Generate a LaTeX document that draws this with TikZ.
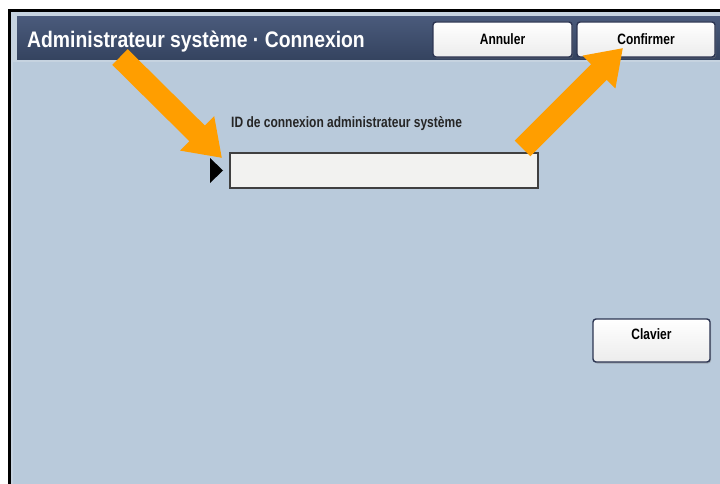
\documentclass[tikz,border=0pt]{standalone}
\usepackage{fontspec}
\setmainfont{Liberation Sans}
\newfontfamily\condf{Liberation Sans}[FakeStretch=0.8]
\newfontfamily\titlef{Liberation Sans}[FakeStretch=0.86]
\usetikzlibrary{arrows.meta,shadows}
\definecolor{bgblue}{HTML}{B9CADB}
\definecolor{framebg}{HTML}{C6D3E0}
\definecolor{bartop}{HTML}{4A5A7B}
\definecolor{barbot}{HTML}{34435F}
\definecolor{btnedge}{HTML}{2C3552}
\definecolor{fieldfill}{HTML}{F2F2F0}
\definecolor{arrorange}{HTML}{FF9E00}
\tikzset{
  btn/.style={draw=btnedge, line width=1.4pt, rounded corners=3pt,
    top color=white, bottom color=white!85!gray,
    drop shadow={shadow xshift=1pt, shadow yshift=-1.5pt, opacity=0.45},
    font=\condf\bfseries\fontsize{15}{15}\selectfont, text=black},
  btntext/.style={font=\condf\bfseries\fontsize{15}{15}\selectfont, text=black},
  oarrow/.style={draw=arrorange, line width=22pt, line cap=butt}
}
\begin{document}
\begin{tikzpicture}[x=1pt,y=-1pt]
\useasboundingbox (0,0) rectangle (720,484);
\fill[white] (0,0) rectangle (720,484);
\fill[black] (8,9) rectangle (720,484);
\fill[framebg] (11,12) rectangle (720,484);
\fill[bgblue] (13,62) rectangle (720,484);
\shade[top color=bartop, bottom color=barbot] (17,17) rectangle (720,60);
\node[anchor=base west, text=white, inner sep=0pt,
  font=\titlef\bfseries\fontsize{22.5}{22.5}\selectfont] (title) at (27,48)
  {Administrateur système · Connexion};
\node[btn, minimum width=139pt, minimum height=35pt] (annuler) at (502.5,39.5) {Annuler};
\node[btn, minimum width=138pt, minimum height=35pt] (confirmer) at (646,39.5) {Confirmer};
\node[btn, minimum width=117pt, minimum height=43pt] (clavier) at (651.5,340.5) {};
\node[btntext] (clavtext) at ([yshift=6pt]clavier.center) {Clavier};
\node[anchor=base west, inner sep=0pt, text=black!85,
  font=\condf\bfseries\fontsize{15}{15}\selectfont] (idlabel) at (231,128)
  {ID de connexion administrateur système};
\node[draw=black!75, line width=1.2pt, fill=fieldfill, minimum width=308pt,
  minimum height=35pt, inner sep=0pt] (idfield) at (384,170.5) {};
\fill[black] (210,158) -- (210,183) -- (223,170.5) -- cycle;
\coordinate (a1s) at (120,57);
\coordinate (a1t) at (222,158);
\coordinate (a2s) at (522.5,148.5);
\coordinate (a2t) at (623,48);
\draw[oarrow, -{Triangle[width=46pt,length=35pt]}] (a1s) -- (a1t);
\draw[oarrow, -{Triangle[width=44pt,length=34pt]}] (a2s) -- (a2t);
\end{tikzpicture}
\end{document}
